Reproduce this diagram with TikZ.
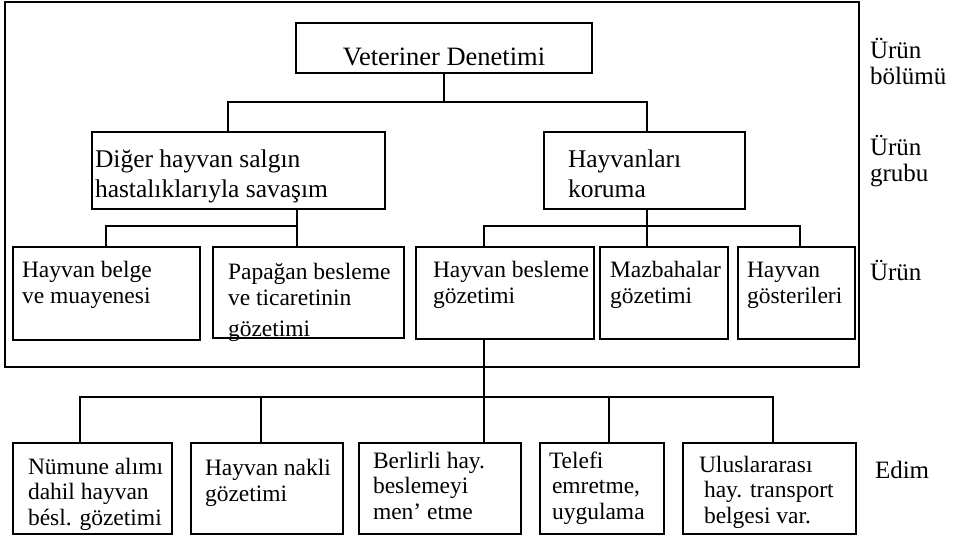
\documentclass[tikz,border=0pt]{standalone}
\usepackage{fontspec}
\setmainfont{Liberation Serif}
\begin{document}
\begin{tikzpicture}[x=1pt,y=-1pt,
  box/.style={draw=black, line width=1.5pt, rectangle, inner sep=0pt, outer sep=0pt},
  frame/.style={draw=black, line width=2pt},
  conn/.style={draw=black, line width=1.5pt},
  txt/.style={inner sep=0pt, outer sep=0pt, align=left, text=black},
  ftop/.style={font=\fontsize{26.5}{30}\selectfont},
  fgrp/.style={font=\fontsize{25.5}{29.5}\selectfont},
  fprd/.style={font=\fontsize{23.5}{26}\selectfont},
  fedm/.style={font=\fontsize{23.5}{25.5}\selectfont},
  flab/.style={font=\fontsize{25}{26}\selectfont}]
\useasboundingbox (0,0) rectangle (954,538);
\fill[white] (0,0) rectangle (954,538);

% outer frame
\node[frame, rectangle, inner sep=0pt, minimum width=854pt, minimum height=365pt] (frm) at (432,184.5) {};

% texts (base anchor = baseline of the last line)
\node[txt, ftop, anchor=base] (ttop) at (444,65) {Veteriner Denetimi};
\node[txt, fgrp, anchor=base west] (tg1) at (95,197) {Diğer hayvan salgın\\hastalıklarıyla savaşım};
\node[txt, fgrp, anchor=base west] (tg2) at (568,197) {Hayvanları\\koruma};

\node[txt, fprd, anchor=base west] (tp1) at (22,303) {Hayvan belge\\ve muayenesi};
\node[txt, fprd, anchor=base west] (tp2) at (228,336) {Papağan besleme\\ve ticaretinin\\[5pt]gözetimi};
\node[txt, fprd, anchor=base west] (tp3) at (433,303) {Hayvan besleme\\gözetimi};
\node[txt, fprd, anchor=base west] (tp4) at (610,303) {Mazbahalar\\gözetimi};
\node[txt, fprd, anchor=base west] (tp5) at (747,303) {Hayvan\\gösterileri};

\node[txt, fedm, anchor=base west] (te1) at (28,525) {Nümune alımı\\dahil hayvan\\bésl. gözetimi};
\node[txt, fedm, anchor=base west] (te2) at (205,501) {Hayvan nakli\\gözetimi};
\node[txt, fedm, anchor=base west] (te3) at (373,519) {Berlirli hay.\\beslemeyi\\men' etme};
\node[txt, fedm, anchor=base west] (te4) at (549,519) {Telefi\\\hspace*{3pt}emretme,\\\hspace*{3pt}uygulama};
\node[txt, fedm, anchor=base west] (te5) at (699,523) {Uluslararası\\\hspace*{5pt}hay. transport\\\hspace*{5pt}belgesi var.};

% right labels
\node[txt, flab, anchor=base west] (l1) at (870,84) {Ürün\\bölümü};
\node[txt, flab, anchor=base west] (l2) at (870,181) {Ürün\\grubu};
\node[txt, flab, anchor=base west] (l3) at (870,280) {Ürün};
\node[txt, flab, anchor=base west] (l4) at (875,478) {Edim};

% boxes (drawn after texts so the cut-off line of p2 shows the border over it)
\node[box, minimum width=296pt, minimum height=50pt] (top) at (444,48) {};
\node[box, minimum width=293pt, minimum height=77pt] (g1) at (238.5,170.5) {};
\node[box, minimum width=201pt, minimum height=77pt] (g2) at (644.5,170.5) {};

\node[box, minimum width=187pt, minimum height=93pt] (p1) at (106.5,293.5) {};
\node[box, minimum width=191pt, minimum height=91pt] (p2) at (308.5,292.5) {};
\node[box, minimum width=178pt, minimum height=92pt] (p3) at (505,293) {};
\node[box, minimum width=128pt, minimum height=92pt] (p4) at (664,293) {};
\node[box, minimum width=117pt, minimum height=92pt] (p5) at (796.5,293) {};

\node[box, minimum width=159pt, minimum height=91pt] (e1) at (92.5,488.5) {};
\node[box, minimum width=152pt, minimum height=91pt] (e2) at (267,488.5) {};
\node[box, minimum width=162pt, minimum height=91pt] (e3) at (440,488.5) {};
\node[box, minimum width=124pt, minimum height=91pt] (e4) at (602,488.5) {};
\node[box, minimum width=173pt, minimum height=91pt] (e5) at (769.5,488.5) {};

% connector junctions
\coordinate (b1L) at (228,102);
\coordinate (b1R) at (647,102);
\coordinate (b2L) at (106,226);
\coordinate (b2R) at (297,226);
\coordinate (b3L) at (484,226);
\coordinate (b3M) at (647,226);
\coordinate (b3R) at (800,226);
\coordinate (b4L) at (80,397);
\coordinate (b4A) at (261,397);
\coordinate (b4M) at (484,397);
\coordinate (b4B) at (609,397);
\coordinate (b4R) at (773,397);

% connectors
\draw[conn] (top.south) -- (top.south |- b1L);
\draw[conn] (b1L |- g1.north) -- (b1L) -- (b1R) -- (b1R |- g2.north);

\draw[conn] (b2R |- g1.south) -- (b2R) -- (b2L) -- (b2L |- p1.north);
\draw[conn] (b2R) -- (b2R |- p2.north);

\draw[conn] (b3M |- g2.south) -- (b3M |- p4.north);
\draw[conn] (b3L |- p3.north) -- (b3L) -- (b3R) -- (b3R |- p5.north);

\draw[conn] (b4M |- p3.south) -- (b4M |- e3.north);
\draw[conn] (b4L |- e1.north) -- (b4L) -- (b4R) -- (b4R |- e5.north);
\draw[conn] (b4A) -- (b4A |- e2.north);
\draw[conn] (b4B) -- (b4B |- e4.north);
\end{tikzpicture}
\end{document}
